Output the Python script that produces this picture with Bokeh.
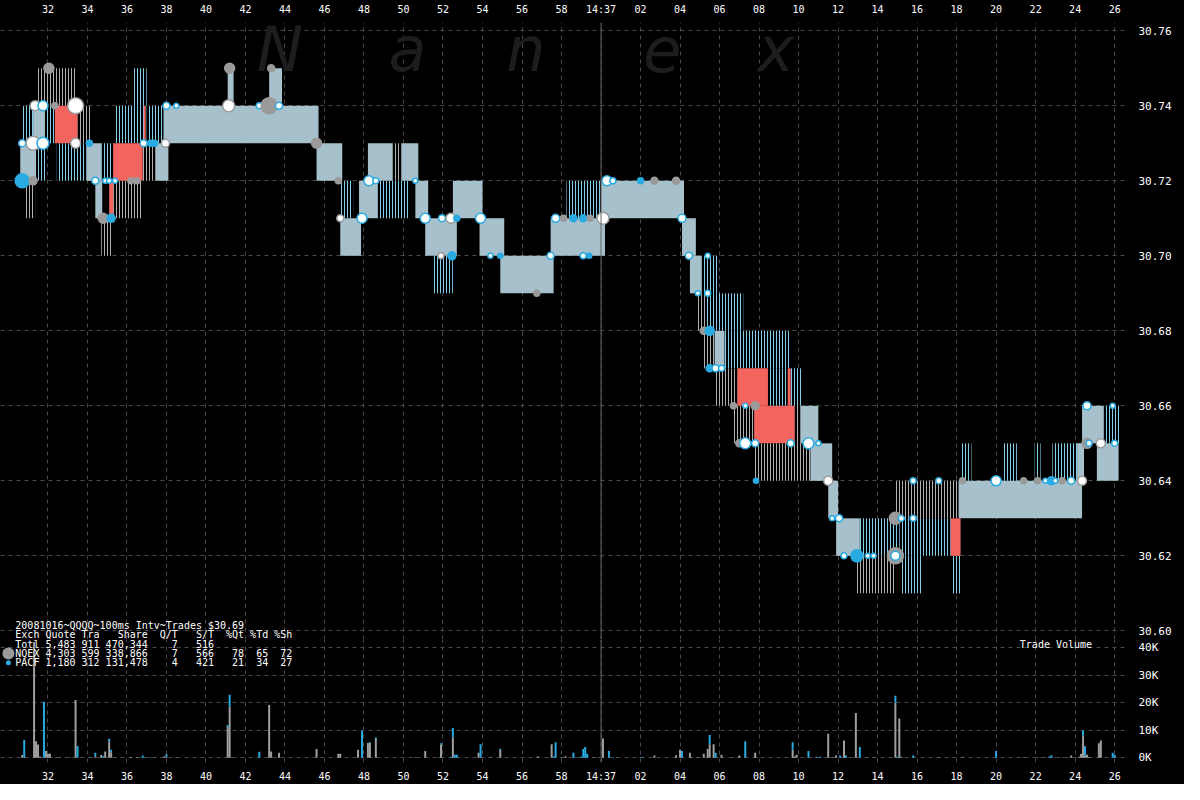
import re
from bokeh.plotting import figure
from bokeh.models import Range1d, FixedTicker, CustomJSTickFormatter, ColumnDataSource, Span
from bokeh.layouts import column
from bokeh.embed import file_html
from bokeh.resources import INLINE
from bokeh.core.properties import value

# ---------------- data ----------------
# time axis: seconds after 14:36:00
tick_secs = list(range(32, 88, 2))
tick_labels = ["32", "34", "36", "38", "40", "42", "44", "46", "48", "50", "52", "54", "56", "58",
               "14:37", "02", "04", "06", "08", "10", "12", "14", "16", "18", "20", "22", "24", "26"]
price_ticks = [30.60, 30.62, 30.64, 30.66, 30.68, 30.70, 30.72, 30.74, 30.76]
vol_ticks = [0, 10000, 20000, 30000, 40000]

# quote bands: start, end (s), low price, kind (solid / blue / gray / red); each band is one cent high
seg_t0 = [30.6, 31.4, 30.7, 31.25, 31.85, 30.8, 31.5, 32.35, 33.5, 32.45, 33.95, 34.7, 34.4, 34.7, 35.1,
          35.3, 35.3, 35.35, 36.35, 36.85, 36.8, 37.0, 37.45, 37.85, 41.1, 43.2, 45.6, 46.8, 46.8, 47.75,
          48.7, 48.2, 49.45, 49.9, 50.6, 51.1, 51.45, 52.5, 53.85, 54.9, 57.45, 58.25, 60.0, 64.1, 64.5,
          65.1, 64.9, 65.35, 65.2, 65.75, 66.25, 65.75, 66.9, 68.45, 69.45, 69.6, 66.7, 67.75, 69.8, 70.1,
          67.75, 70.6, 71.5, 71.9, 73.1, 75.1, 77.7, 72.9, 75.15, 77.75, 74.9, 78.1, 78.25, 80.35, 81.95,
          82.85, 84.1, 84.35, 85.45, 85.1]
seg_t1 = [31.4, 31.9, 31.25, 31.85, 32.35, 31.35, 33.45, 33.5, 34.15, 33.95, 34.7, 35.3, 34.75, 35.25, 35.3,
          36.75, 36.8, 36.95, 37.0, 36.95, 37.45, 37.85, 38.1, 45.7, 41.4, 43.85, 46.9, 47.45, 47.85, 48.7,
          50.25, 49.45, 49.9, 50.75, 51.25, 52.7, 52.5, 54.0, 55.1, 57.6, 60.2, 60.1, 64.2, 64.8, 65.1,
          65.9, 65.35, 67.2, 65.75, 66.25, 69.6, 66.9, 68.45, 69.45, 69.6, 70.2, 67.75, 69.8, 70.1, 71.0,
          70.6, 71.7, 72.0, 73.1, 75.0, 77.7, 78.2, 74.85, 76.25, 78.2, 78.1, 84.35, 78.75, 81.05, 82.25,
          84.1, 84.45, 85.45, 86.25, 86.2]
seg_lo = [30.72, 30.72, 30.73, 30.73, 30.73, 30.71, 30.74, 30.73, 30.73, 30.72, 30.72, 30.72, 30.71, 30.70, 30.71,
          30.71, 30.72, 30.73, 30.74, 30.73, 30.72, 30.73, 30.72, 30.73, 30.74, 30.74, 30.72, 30.71, 30.70, 30.71,
          30.71, 30.72, 30.72, 30.72, 30.71, 30.70, 30.69, 30.71, 30.70, 30.69, 30.70, 30.71, 30.71, 30.70, 30.69,
          30.69, 30.68, 30.68, 30.67, 30.67, 30.67, 30.66, 30.66, 30.66, 30.66, 30.66, 30.65, 30.65, 30.65, 30.65,
          30.64, 30.64, 30.63, 30.62, 30.62, 30.62, 30.62, 30.61, 30.61, 30.61, 30.63, 30.63, 30.64, 30.64, 30.64,
          30.64, 30.64, 30.65, 30.65, 30.64]
seg_kind = ["solid", "blue", "blue", "solid", "blue", "gray", "gray", "red", "gray", "blue", "solid", "blue",
            "solid", "gray", "red", "gray", "red", "blue", "blue", "red", "gray", "blue", "solid", "solid",
            "solid", "solid", "solid", "blue", "solid", "solid", "blue", "solid", "gray", "solid", "solid",
            "solid", "blue", "solid", "solid", "solid", "solid", "blue", "solid", "solid", "solid", "blue",
            "gray", "blue", "gray", "solid", "blue", "gray", "red", "blue", "red", "blue", "gray", "red",
            "gray", "solid", "gray", "solid", "solid", "solid", "blue", "blue", "red", "gray", "blue", "blue",
            "gray", "solid", "blue", "blue", "blue", "blue", "solid", "solid", "blue", "solid"]
seg_hi = [round(v + 0.01, 2) for v in seg_lo]

# trades: time, price, marker size, kind
trade_t = [30.7, 31.25, 30.7, 31.25, 31.75, 31.35, 31.75, 32.35, 33.4, 33.4, 34.1, 32.05, 34.4, 34.9, 35.1,
           35.4, 34.8, 35.2, 36.2, 36.5, 36.85, 37.2, 37.4, 37.95, 38.0, 38.5, 41.2, 41.15, 42.7, 43.3,
           43.2, 43.7, 45.6, 46.7, 46.8, 47.9, 48.25, 48.6, 50.6, 51.1, 51.95, 52.4, 52.7, 51.9, 52.45,
           53.9, 54.4, 54.9, 56.75, 57.45, 57.7, 58.1, 58.6, 59.1, 59.45, 60.1, 59.1, 59.4, 60.3, 60.6,
           62.0, 62.7, 63.8, 64.1, 64.45, 65.4, 64.9, 65.4, 65.2, 65.5, 65.5, 65.8, 66.1, 66.7, 67.3,
           67.8, 67.0, 67.3, 67.8, 69.6, 70.5, 71.0, 67.85, 71.5, 71.7, 72.05, 72.3, 72.95, 73.5, 73.8,
           74.9, 74.9, 74.9, 75.2, 75.8, 75.8, 77.1, 78.3, 80.0, 81.4, 82.1, 82.5, 82.8, 83.0, 83.35,
           83.8, 84.35, 84.6, 84.7, 85.3, 86.0, 84.6, 85.9]
trade_p = [30.72, 30.72, 30.73, 30.73, 30.73, 30.74, 30.74, 30.74, 30.74, 30.73, 30.73, 30.75, 30.72, 30.72, 30.72,
           30.72, 30.71, 30.71, 30.72, 30.72, 30.73, 30.73, 30.73, 30.73, 30.74, 30.74, 30.75, 30.74, 30.74, 30.75,
           30.74, 30.74, 30.73, 30.72, 30.71, 30.71, 30.72, 30.72, 30.72, 30.71, 30.71, 30.71, 30.71, 30.70, 30.70,
           30.71, 30.70, 30.70, 30.69, 30.70, 30.71, 30.71, 30.71, 30.71, 30.71, 30.71, 30.70, 30.70, 30.72, 30.72,
           30.72, 30.72, 30.72, 30.71, 30.70, 30.70, 30.69, 30.69, 30.68, 30.68, 30.67, 30.67, 30.67, 30.66, 30.66,
           30.66, 30.65, 30.65, 30.65, 30.65, 30.65, 30.65, 30.64, 30.64, 30.63, 30.63, 30.62, 30.62, 30.62, 30.62,
           30.62, 30.62, 30.63, 30.63, 30.63, 30.64, 30.64, 30.64, 30.64, 30.64, 30.64, 30.64, 30.64, 30.64, 30.64,
           30.64, 30.64, 30.65, 30.65, 30.65, 30.65, 30.66, 30.66]
trade_size = [14, 8, 7, 14, 12, 10, 10, 6, 16, 10, 6, 10, 7, 5, 5,
              5, 10, 8, 6, 6, 7, 6, 6, 8, 7, 5, 10, 12, 6, 7,
              16, 7, 10, 6, 7, 10, 10, 6, 5, 10, 7, 10, 6, 6, 8,
              10, 5, 5, 6, 7, 8, 6, 7, 7, 6, 12, 6, 5, 10, 6,
              6, 7, 7, 8, 7, 5, 5, 6, 7, 9, 7, 7, 6, 6, 5,
              8, 7, 11, 7, 7, 11, 5, 5, 9, 5, 7, 6, 12, 5, 5,
              16, 9, 12, 6, 6, 6, 6, 6, 10, 6, 6, 5, 8, 5, 6,
              7, 9, 10, 6, 9, 6, 8, 5]
trade_kind = ["b", "g", "wb", "wg", "wb", "wg", "wb", "g", "wg", "wg", "b", "g", "wb", "wb", "wb",
              "wb", "g", "b", "g", "g", "wb", "b", "b", "wg", "wb", "wb", "g", "wg", "wb", "g",
              "g", "wb", "g", "g", "wg", "wb", "wb", "wb", "wb", "wb", "wb", "wg", "b", "wg", "b",
              "wb", "wb", "b", "g", "wb", "wb", "g", "b", "b", "g", "wg", "wb", "b", "wb", "wb",
              "b", "g", "g", "wb", "wb", "wb", "wb", "wb", "g", "b", "b", "wb", "wb", "g", "wb",
              "g", "g", "wb", "wb", "wb", "wb", "wb", "b", "wg", "wb", "wb", "wb", "b", "wb", "wb",
              "g", "wb", "g", "wb", "wb", "wb", "wb", "g", "wb", "g", "g", "wb", "b", "wb", "g",
              "wb", "wg", "g", "wb", "wg", "wb", "wb", "wb"]

# volume per 100ms interval (thousands of shares)
vol_t = [30.7, 30.8, 31.3, 31.4, 31.5, 31.6, 31.8, 31.9, 32.0, 32.1, 32.4, 32.6, 33.1, 33.4, 33.5, 34.1,
         34.4, 34.7, 34.8, 34.9, 35.1, 35.2, 35.4, 36.2, 36.5, 36.8, 36.9, 37.2, 37.4, 37.9, 38.0, 38.5,
         41.1, 41.2, 41.3, 42.7, 43.2, 43.3, 43.7, 45.6, 46.7, 46.8, 47.7, 47.9, 48.2, 48.3, 48.6,
         50.6, 51.1, 51.8, 51.9, 52.4, 52.5, 52.6, 52.7, 53.8, 53.9, 54.4, 54.9, 56.8, 57.5, 57.6, 57.7,
         58.0, 58.2, 58.6, 58.7, 59.0, 59.1, 59.2, 59.3, 59.6, 59.9, 60.1, 60.4, 60.6, 60.8, 62.0, 62.1,
         62.7, 63.8, 64.0, 64.1, 64.5, 64.6, 64.9, 65.2, 65.4, 65.5, 65.7, 65.8, 65.9, 66.1, 66.7, 67.0,
         67.3, 67.8, 67.9, 69.7, 69.8, 69.9, 70.5, 70.9, 71.1, 71.5, 71.6, 71.7, 71.9, 72.1, 72.3, 72.4,
         72.8, 72.9, 73.1, 73.5, 73.8, 74.9, 75.0, 75.1, 75.2, 75.8, 77.1, 78.3, 80.0, 81.4, 82.1, 82.5,
         82.7, 82.8, 83.0, 83.4, 83.8, 84.2, 84.3, 84.4, 84.5, 84.6, 84.7, 85.2, 85.3, 85.9, 86.0]
vol_nqex = [1.0, 0, 42.0, 6.0, 4.8, 0.5, 0, 2.5, 1.4, 1.6, 0.2, 0.2, 0.2, 21.0, 0, 0,
            0.5, 1.0, 0, 2.3, 6.0, 2.0, 0, 0.3, 0.3, 0, 0, 0, 0, 0.5, 0.5, 0,
            11.2, 18.6, 0.2, 0, 19.2, 2.3, 1.8, 3.2, 1.5, 1.5, 2.9, 0, 5.4, 5.4, 6.8,
            0.2, 2.5, 0, 4.8, 0, 7.4, 0, 0, 1.8, 0, 0.2, 2.8, 0.5, 4.9, 0, 0,
            0, 0.6, 0, 0, 0, 0, 0, 0, 0.2, 0.2, 7.0, 0, 0, 0, 0, 0,
            0.8, 0.9, 2.9, 0, 1.8, 0, 0.2, 1.5, 3.2, 4.9, 4.9, 0, 0.2, 1.1, 0.2, 0.8,
            0, 1.8, 0, 2.9, 0.5, 1.1, 0, 0, 0, 8.7, 0.2, 0.2, 0.8, 0, 6.3, 0,
            0, 16.3, 0, 0, 0, 20.1, 0, 14.3, 0.4, 0, 0.2, 0.2, 0, 0.2, 0.2, 0,
            0, 0, 0.2, 0.2, 0.8, 0.4, 1.5, 8.2, 0.8, 1.1, 0.3, 5.3, 6.3, 0, 0]
vol_pacf = [0, 6.5, 0, 0, 0, 0, 20.3, 0, 0, 0, 0, 0, 0, 0, 4.3, 0.2,
            1.3, 0, 0.6, 0, 0.9, 0.9, 0.2, 0, 0, 0.8, 0.2, 0.2, 0.2, 0, 0.8, 0.2,
            0.7, 4.3, 0, 2.2, 0, 0, 0, 0, 0, 0, 0, 9.8, 0, 0.2, 0.6,
            0, 0, 0.2, 0.5, 0.3, 3.4, 1.1, 1.1, 0, 4.9, 0, 0.5, 0, 0, 0.5, 5.6,
            0.2, 0, 1.8, 0.2, 0.5, 3.2, 3.9, 1.5, 0, 0, 0, 2.5, 0.2, 0.2, 0.2, 0.2,
            0, 0, 0, 2.5, 0, 0.2, 0, 0, 0, 3.4, 0, 1.8, 0, 0, 0, 0,
            6.0, 0, 0.2, 2.7, 0, 0, 2.5, 0.4, 0.4, 0, 0, 0, 0, 0.8, 0, 0.8,
            0.2, 0, 3.9, 0.2, 0.2, 2.4, 0.4, 0, 0, 0.8, 0, 0, 2.5, 0, 0, 0.2,
            0.5, 0.9, 0, 0, 0, 0, 0, 1.7, 3.4, 0, 0, 0, 0, 1.8, 1.1]

legend_lines_top = ["20081016~QQQQ~100ms Intv~Trades $30.69",
                    "Exch Quote Tra   Share  Q/T   S/T  %Qt %Td %Sh"]
legend_lines_bottom = ["Totl 5,483 911 470,344    7   516",
                       "NQEX 4,303 599 338,866    7   566   78  65  72",
                       "PACF 1,180 312 131,478    4   421   21  34  27"]

# ---------------- style ----------------
MONO = "DejaVu Sans Mono"
BG = "#000000"
GRID = "#4a4a4a"
SOLID = "#a6c1cb"
BLUE = "#29abe2"
STRIPE_BLUE = "#84cde9"
STRIPE_GRAY = "#b0b0b0"
RED = "#f4645f"
GRAYDOT = "#9a9a9a"
W = 1184
NBSP = "\u00a0"
BLACK_STYLE = {"background-color": "#000000"}

xr = Range1d(29.6, 86.6)

tick_fmt = CustomJSTickFormatter(args=dict(secs=tick_secs, labels=tick_labels), code="""
    const i = secs.indexOf(Math.round(tick));
    return i >= 0 ? labels[i] : "";
""")


def style_common(fig):
    fig.xgrid.ticker = FixedTicker(ticks=tick_secs)
    fig.xgrid.grid_line_color = GRID
    fig.xgrid.grid_line_dash = "4 4"
    fig.ygrid.grid_line_color = GRID
    fig.ygrid.grid_line_dash = "4 4"
    for ax in fig.xaxis + fig.yaxis:
        ax.major_tick_line_color = None
        ax.minor_tick_line_color = None
        ax.axis_line_color = None
        ax.major_label_text_color = "white"
        ax.major_label_text_font = MONO
    for ax in fig.xaxis:
        ax.ticker = FixedTicker(ticks=tick_secs)
        ax.formatter = tick_fmt
        ax.major_label_text_font_size = "10px"
        ax.major_label_standoff = 2
    for ax in fig.yaxis:
        ax.major_label_text_font_size = "11px"
        ax.major_label_standoff = 6
    fig.add_layout(Span(location=60, dimension="height", line_color="#666666", line_width=1))


# ---------------- price panel ----------------
p = figure(width=W, height=639, x_range=xr, y_range=Range1d(30.5977, 30.7622),
           x_axis_location="above", y_axis_location="right",
           output_backend="svg", toolbar_location=None, styles=BLACK_STYLE,
           background_fill_color=BG, border_fill_color=BG, outline_line_color=None,
           min_border_left=0, min_border_right=58, min_border_top=12, min_border_bottom=0)
style_common(p)
p.yaxis.ticker = FixedTicker(ticks=price_ticks)
p.yaxis.formatter = CustomJSTickFormatter(code="return tick.toFixed(2);")
p.ygrid.ticker = FixedTicker(ticks=price_ticks)

# watermark
p.text(x=[43.75, 50.2, 56.2, 63.1, 68.85], y=[30.7551] * 5, text=list("Nanex"),
       text_font=value("DejaVu Sans"), text_font_style="italic", text_font_size="62px",
       text_color="#1d1d1d", text_align="center", text_baseline="alphabetic")


def seg_source(kind):
    idx = [i for i, k in enumerate(seg_kind) if k == kind]
    return ColumnDataSource(dict(left=[seg_t0[i] for i in idx], right=[seg_t1[i] for i in idx],
                                 bottom=[seg_lo[i] for i in idx], top=[seg_hi[i] for i in idx]))


p.quad(source=seg_source("gray"), left="left", right="right", bottom="bottom", top="top",
       fill_color="#000000", line_color=None, hatch_pattern="|", hatch_color=STRIPE_GRAY,
       hatch_scale=3, hatch_weight=1)
p.quad(source=seg_source("blue"), left="left", right="right", bottom="bottom", top="top",
       fill_color="#000000", line_color=None, hatch_pattern="|", hatch_color=STRIPE_BLUE,
       hatch_scale=3, hatch_weight=1)
p.quad(source=seg_source("solid"), left="left", right="right", bottom="bottom", top="top",
       fill_color=SOLID, line_color=None)
p.quad(source=seg_source("red"), left="left", right="right", bottom="bottom", top="top",
       fill_color=RED, line_color=None)

fill_map = {"b": BLUE, "g": GRAYDOT, "wb": "white", "wg": "white"}
line_map = {"b": BLUE, "g": GRAYDOT, "wb": BLUE, "wg": GRAYDOT}
tsrc = ColumnDataSource(dict(x=trade_t, y=trade_p, s=trade_size,
                             f=[fill_map[k] for k in trade_kind], l=[line_map[k] for k in trade_kind]))
p.scatter(x="x", y="y", size="s", source=tsrc, fill_color="f", line_color="l", line_width=1.5)

p.text(x=[30.35, 30.35], y=[30.60155, 30.59897], text=[s.replace(" ", NBSP) for s in legend_lines_top],
       text_font=value(MONO), text_font_size="10px", text_color="white",
       text_baseline="middle", text_align="left")

# ---------------- volume panel ----------------
v = figure(width=W, height=145, x_range=xr, y_range=Range1d(-1710, 42940),
           x_axis_location="below", y_axis_location="right",
           output_backend="svg", toolbar_location=None, styles=BLACK_STYLE,
           background_fill_color=BG, border_fill_color=BG, outline_line_color=None,
           min_border_left=0, min_border_right=58, min_border_top=0, min_border_bottom=17)
style_common(v)
v.yaxis.ticker = FixedTicker(ticks=vol_ticks)
v.yaxis.formatter = CustomJSTickFormatter(code="return (tick/1000).toFixed(0) + 'K';")
v.ygrid.ticker = FixedTicker(ticks=vol_ticks)

nq = [x * 1000 for x in vol_nqex]
pc = [(a + b) * 1000 for a, b in zip(vol_nqex, vol_pacf)]
v.vbar(x=vol_t, width=0.1, bottom=0, top=nq, fill_color="#a0a0a0", line_color=None)
v.vbar(x=vol_t, width=0.1, bottom=nq, top=pc, fill_color=BLUE, line_color=None)

v.text(x=[30.35, 30.35, 30.35], y=[41000, 37900, 34500],
       text=[s.replace(" ", NBSP) for s in legend_lines_bottom], text_font=value(MONO),
       text_font_size="10px", text_color="white", text_baseline="middle", text_align="left")
v.scatter(x=[30.0, 30.0], y=[37900, 34500], size=[12, 5], fill_color=[GRAYDOT, BLUE], line_color=None)
v.text(x=[81.2], y=[41000], text=["Trade" + NBSP + "Volume"], text_font=value(MONO), text_font_size="10px",
       text_color="white", text_baseline="middle", text_align="left")

layout = column(p, v, spacing=0, styles=BLACK_STYLE)
html = file_html(layout, INLINE)
html = re.sub(r"<body([^>]*)>", r'<body\1 style="background-color:#000000;">', html, count=1)
open("out.html", "w").write(html)
